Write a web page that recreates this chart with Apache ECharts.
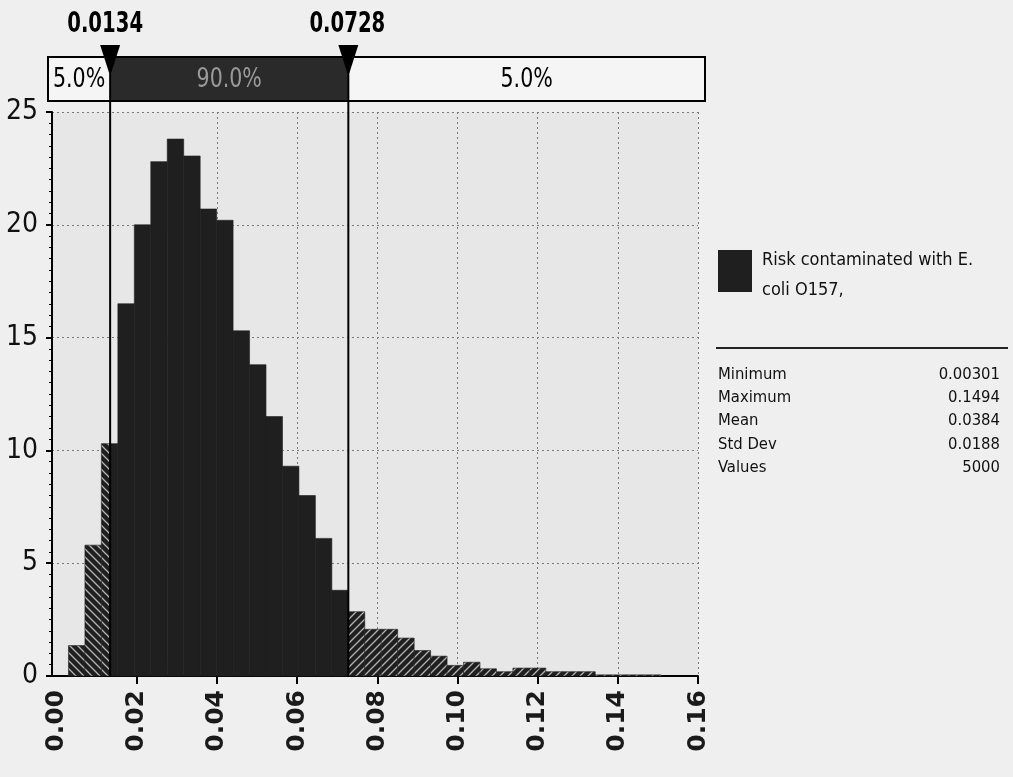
<!DOCTYPE html>
<html>
<head>
<meta charset="utf-8">
<script src="https://cdn.jsdelivr.net/npm/echarts@6/dist/echarts.min.js"></script>
<style>
html,body{margin:0;padding:0;background:#efefef;}
#c{width:1013px;height:777px;}
</style>
</head>
<body>
<div id="c"></div>
<script>
// ---- data ----
const binStart = 0.00301;
const binWidth = 0.004105;
const density = [1.35, 5.8, 10.3, 16.5, 20.0, 22.8, 23.8, 23.05, 20.7, 20.2, 15.3, 13.8, 11.5, 9.3, 8.0, 6.1, 3.8,
                 2.85, 2.07, 2.07, 1.68, 1.13, 0.88, 0.47, 0.61, 0.32, 0.19, 0.35, 0.35, 0.19, 0.19, 0.19,
                 0.05, 0.05, 0.05, 0.05];
const delimiters = [0.0134, 0.0728];
const delimiterLabels = ['0.0134', '0.0728'];
const bandLabels = ['5.0%', '90.0%', '5.0%'];
const xTickValues = [0, 0.02, 0.04, 0.06, 0.08, 0.10, 0.12, 0.14, 0.16];
const yTickValues = [0, 5, 10, 15, 20, 25];
const seriesName = 'Risk contaminated with E.\ncoli O157,';
const statNames = ['Minimum', 'Maximum', 'Mean', 'Std Dev', 'Values'];
const statValues = ['0.00301', '0.1494', '0.0384', '0.0188', '5000'];

// ---- layout / style ----
const X_MIN = -0.0011;
const X_MAX = xTickValues[xTickValues.length - 1];
const Y_MAX = yTickValues[yTickValues.length - 1];
const COND = "'DejaVu Sans Condensed','Liberation Sans Narrow','DejaVu Sans',sans-serif";
const DARK = '#1f1f1f';

function hatch(dir) {
  const c = document.createElement('canvas');
  c.width = 8; c.height = 8;
  const g = c.getContext('2d');
  g.fillStyle = DARK; g.fillRect(0, 0, 8, 8);
  g.strokeStyle = '#b4b4b4'; g.lineWidth = 1.3;
  g.beginPath();
  if (dir > 0) {
    g.moveTo(0, 8); g.lineTo(8, 0); g.moveTo(-4, 4); g.lineTo(4, -4); g.moveTo(4, 12); g.lineTo(12, 4);
  } else {
    g.moveTo(0, 0); g.lineTo(8, 8); g.moveTo(-4, 4); g.lineTo(4, 12); g.moveTo(4, -4); g.lineTo(12, 4);
  }
  g.stroke();
  return c;
}
const patL = {image: hatch(-1), repeat: 'repeat'};
const patR = {image: hatch(1), repeat: 'repeat'};

const binData = density.map((h, i) => [binStart + i * binWidth, binStart + (i + 1) * binWidth, h]);

const chart = echarts.init(document.getElementById('c'), null, {renderer: 'canvas'});

const gridTop = 112, gridBottom = 101, plotLeft = 52, plotRight = 315;

chart.setOption({
  backgroundColor: '#efefef',
  animation: false,
  grid: [
    {left: plotLeft, right: plotRight, top: gridTop, bottom: gridBottom, show: true, backgroundColor: '#e7e7e7', borderWidth: 0},
    {left: 56.5, right: plotRight, top: gridTop, bottom: gridBottom, show: false}
  ],
  xAxis: [
    {type: 'value', gridIndex: 0, min: X_MIN, max: X_MAX,
     axisLine: {show: true, onZero: false, lineStyle: {color: '#000', width: 2}},
     axisTick: {show: false}, axisLabel: {show: false}, splitLine: {show: false}},
    {type: 'value', gridIndex: 1, min: xTickValues[0], max: X_MAX, interval: xTickValues[1] - xTickValues[0],
     axisLine: {show: false},
     axisTick: {show: true, length: 8, customValues: xTickValues.slice(1), lineStyle: {color: '#000', width: 2}},
     axisLabel: {show: true, rotate: 90, margin: 14, fontSize: 25, fontWeight: 'bold',
                 fontFamily: "'DejaVu Sans',sans-serif", color: '#1a1a1a',
                 customValues: xTickValues, formatter: v => v.toFixed(2)},
     splitLine: {show: true, showMinLine: false, lineStyle: {color: '#7a7a7a', type: [2, 3], width: 1}}}
  ],
  yAxis: [
    {type: 'value', gridIndex: 0, min: yTickValues[0], max: Y_MAX, interval: yTickValues[1] - yTickValues[0],
     axisLine: {show: true, onZero: false, lineStyle: {color: '#000', width: 2}},
     axisTick: {show: true, length: 6, lineStyle: {color: '#000', width: 2}},
     minorTick: {show: true, splitNumber: 10, length: 3, lineStyle: {color: '#000', width: 1}},
     axisLabel: {show: true, margin: 14, fontSize: 28, fontFamily: COND, color: '#111'},
     splitLine: {show: true, lineStyle: {color: '#7a7a7a', type: [2, 3], width: 1}}},
    {type: 'value', gridIndex: 1, min: 0, max: Y_MAX, show: false}
  ],
  series: [
    {
      type: 'custom', name: 'hist', xAxisIndex: 0, yAxisIndex: 0, z: 3,
      data: binData,
      renderItem: function (params, api) {
        const x0 = api.value(0), x1 = api.value(1), h = api.value(2);
        const p5 = delimiters[0], p95 = delimiters[1];
        const parts = [
          [x0, Math.min(x1, p5), patL],
          [Math.max(x0, p5), Math.min(x1, p95), DARK],
          [Math.max(x0, p95), x1, patR]
        ];
        const children = [];
        parts.forEach(function (p) {
          if (p[1] - p[0] <= 1e-9) return;
          const tl = api.coord([p[0], h]);
          const br = api.coord([p[1], 0]);
          children.push({type: 'rect',
            shape: {x: tl[0], y: tl[1], width: br[0] - tl[0], height: br[1] - tl[1]},
            style: {fill: p[2], stroke: DARK, lineWidth: 0.6}});
        });
        return {type: 'group', children: children};
      }
    },
    {
      type: 'custom', name: 'delimiters', xAxisIndex: 0, yAxisIndex: 0, z: 5, clip: false, silent: true,
      data: [[delimiters[0], delimiters[1]]],
      renderItem: function (params, api) {
        const a = api.coord([api.value(0), 0]);
        const b = api.coord([api.value(1), 0]);
        const left = api.coord([X_MIN, 0])[0] - 4;
        const right = api.coord([X_MAX, 0])[0] + 7;
        const yBase = a[1];
        const bt = 57, bb = 101, bm = (bt + bb) / 2;
        const txt = (x, y, s, fill, size, sx, w) => ({type: 'text', x: x, y: y, scaleX: sx,
          style: {text: s, fill: fill, fontSize: size, fontWeight: w || 'normal', fontFamily: COND, align: 'center', verticalAlign: 'middle'}});
        const tri = (x) => ({type: 'polygon', shape: {points: [[x - 10, 45], [x + 10, 45], [x + 1, 73], [x - 1, 73]]}, style: {fill: '#000'}});
        return {type: 'group', children: [
          {type: 'rect', shape: {x: left, y: bt, width: a[0] - left, height: bb - bt}, style: {fill: '#f5f5f5'}},
          {type: 'rect', shape: {x: a[0], y: bt, width: b[0] - a[0], height: bb - bt}, style: {fill: '#2a2a2a'}},
          {type: 'rect', shape: {x: b[0], y: bt, width: right - b[0], height: bb - bt}, style: {fill: '#f5f5f5'}},
          {type: 'rect', shape: {x: left, y: bt, width: right - left, height: bb - bt}, style: {fill: null, stroke: '#000', lineWidth: 2}},
          txt((left + a[0]) / 2, bm + 1, bandLabels[0], '#000', 26, 0.88),
          txt((a[0] + b[0]) / 2, bm + 1, bandLabels[1], '#9a9a9a', 26, 0.88),
          txt((b[0] + right) / 2, bm + 1, bandLabels[2], '#000', 26, 0.88),
          {type: 'line', shape: {x1: a[0], y1: 60, x2: a[0], y2: yBase}, style: {stroke: '#000', lineWidth: 2}},
          {type: 'line', shape: {x1: b[0], y1: 60, x2: b[0], y2: yBase}, style: {stroke: '#000', lineWidth: 2}},
          tri(a[0]), tri(b[0]),
          txt(a[0] - 5, 25, delimiterLabels[0], '#000', 28, 0.78, 'bold'),
          txt(b[0] - 1, 25, delimiterLabels[1], '#000', 28, 0.78, 'bold')
        ]};
      }
    }
  ],
  graphic: [
    {type: 'rect', left: 718, top: 250, shape: {width: 34, height: 42}, style: {fill: DARK}},
    {type: 'text', left: 762, top: 245, style: {text: seriesName, fontSize: 18, lineHeight: 30, fontFamily: COND, fill: '#111'}},
    {type: 'line', shape: {x1: 716, y1: 348, x2: 1008, y2: 348}, style: {stroke: '#222', lineWidth: 2}}
  ].concat(statNames.map((n, i) => ({type: 'text', left: 718, top: 366 + i * 23.3,
      style: {text: n, fontSize: 16.5, fontFamily: COND, fill: '#111'}})))
   .concat(statValues.map((v, i) => ({type: 'text', right: 13, top: 366 + i * 23.3,
      style: {text: v, fontSize: 16.5, fontFamily: COND, fill: '#111'}})))
});
</script>
</body>
</html>
